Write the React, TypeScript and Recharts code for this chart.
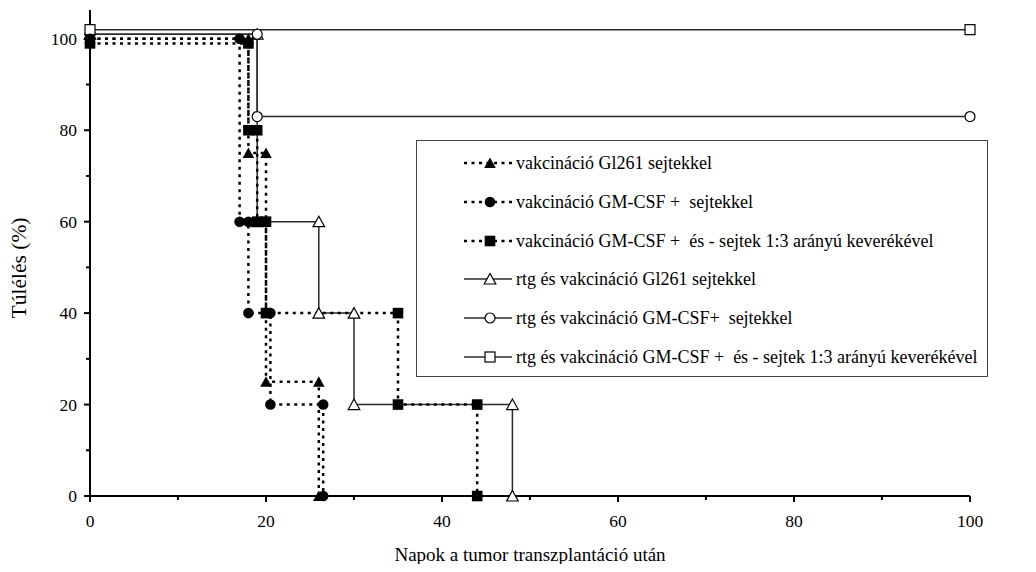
import React from 'react';
import { LineChart, Line, XAxis, YAxis, Legend, Label } from 'recharts';

const FONT = '"Liberation Serif", "Times New Roman", Times, serif';

// Kaplan–Meier step curves: every corner of a step is a (day, survival %) point
const gl261Days = [0, 18, 18, 20, 20, 26, 26];
const gl261Surv = [100, 100, 75, 75, 25, 25, 0];

const gmPlusDays = [0, 17, 17, 18, 18, 20.5, 20.5, 26.5, 26.5];
const gmPlusSurv = [100, 100, 60, 60, 40, 40, 20, 20, 0];

const mixDays = [0, 18, 18, 19, 19, 20, 20, 35, 35, 44, 44];
const mixSurv = [99, 99, 80, 80, 60, 60, 40, 40, 20, 20, 0];

const rtgGl261Days = [0, 19, 19, 26, 26, 30, 30, 48, 48];
const rtgGl261Surv = [101, 101, 60, 60, 40, 40, 20, 20, 0];

const rtgGmPlusDays = [0, 19, 19, 100];
const rtgGmPlusSurv = [101, 101, 83, 83];

const rtgMixDays = [0, 100];
const rtgMixSurv = [102, 102];

const xTicks = [0, 10, 20, 30, 40, 50, 60, 70, 80, 90, 100];
const yTicks = [0, 10, 20, 30, 40, 50, 60, 70, 80, 90, 100];

type MarkerKind = 'triangle' | 'circle' | 'square' | 'triangleOpen' | 'circleOpen' | 'squareOpen';

type Series = {
  name: string;
  days: number[];
  surv: number[];
  dotted: boolean;
  marker: MarkerKind;
};

const SERIES: Series[] = [
  { name: 'vakcináció Gl261 sejtekkel', days: gl261Days, surv: gl261Surv, dotted: true, marker: 'triangle' },
  { name: 'vakcináció GM-CSF +  sejtekkel', days: gmPlusDays, surv: gmPlusSurv, dotted: true, marker: 'circle' },
  { name: 'vakcináció GM-CSF +  és - sejtek 1:3 arányú keverékével', days: mixDays, surv: mixSurv, dotted: true, marker: 'square' },
  { name: 'rtg és vakcináció Gl261 sejtekkel', days: rtgGl261Days, surv: rtgGl261Surv, dotted: false, marker: 'triangleOpen' },
  { name: 'rtg és vakcináció GM-CSF+  sejtekkel', days: rtgGmPlusDays, surv: rtgGmPlusSurv, dotted: false, marker: 'circleOpen' },
  { name: 'rtg és vakcináció GM-CSF +  és - sejtek 1:3 arányú keverékével', days: rtgMixDays, surv: rtgMixSurv, dotted: false, marker: 'squareOpen' },
];

// open-marker series are painted first, filled ones on top
const DRAW_ORDER = [3, 4, 5, 0, 1, 2];

const toPoints = (s: Series) => s.days.map((d, i) => ({ x: d, y: s.surv[i] }));

const DOT_DASH = '3 4.5';
const lineStroke = (s: Series) => (s.dotted ? '#000' : '#2a2a2a');
const lineWidth = (s: Series) => (s.dotted ? 2.5 : 1.5);

function Marker({ kind, cx, cy }: { kind: MarkerKind; cx: number; cy: number }) {
  const open = { fill: '#fff', stroke: '#000', strokeWidth: 1.2 };
  switch (kind) {
    case 'triangle':
      return <polygon points={`${cx},${cy - 5.5} ${cx - 5.8},${cy + 5} ${cx + 5.8},${cy + 5}`} fill="#000" />;
    case 'circle':
      return <circle cx={cx} cy={cy} r={5.3} fill="#000" />;
    case 'square':
      return <rect x={cx - 5.3} y={cy - 5.3} width={10.6} height={10.6} fill="#000" />;
    case 'triangleOpen':
      return <polygon points={`${cx},${cy - 5.5} ${cx - 5.8},${cy + 5} ${cx + 5.8},${cy + 5}`} {...open} />;
    case 'circleOpen':
      return <circle cx={cx} cy={cy} r={5} {...open} />;
    case 'squareOpen':
    default:
      return <rect x={cx - 5} y={cy - 5} width={10} height={10} {...open} />;
  }
}

const TICK_FONT = 17.5;

const YTick = (props: any) => {
  const { x, y, payload } = props;
  const major = payload.value % 20 === 0;
  return (
    <g>
      <line x1={x - (major ? 6 : 4)} x2={x} y1={y} y2={y} stroke="#000" strokeWidth={2} />
      {major && (
        <text x={x - 13} y={y} dy="0.35em" textAnchor="end" fontFamily={FONT} fontSize={TICK_FONT} fill="#000">
          {payload.value}
        </text>
      )}
    </g>
  );
};

const XTick = (props: any) => {
  const { x, y, payload } = props;
  const major = payload.value % 20 === 0;
  return (
    <g>
      <line x1={x} x2={x} y1={y} y2={y + (major ? 6 : 4)} stroke="#000" strokeWidth={2} />
      {major && (
        <text x={x} y={y + 25} dy="0.35em" textAnchor="middle" fontFamily={FONT} fontSize={TICK_FONT} fill="#000">
          {payload.value}
        </text>
      )}
    </g>
  );
};

const LegendBox = () => (
  <div
    style={{
      position: 'relative',
      width: 572,
      height: 237,
      border: '1px solid #444',
      boxSizing: 'border-box',
      background: '#fff',
      fontFamily: FONT,
    }}
  >
    {SERIES.map((s, i) => (
      <div
        key={s.name}
        style={{
          position: 'absolute',
          left: 45,
          top: 22 + i * 38.8 - 11,
          height: 22,
          display: 'flex',
          alignItems: 'center',
        }}
      >
        <svg width={52} height={22} style={{ display: 'block' }}>
          <line
            x1={2}
            x2={50}
            y1={11}
            y2={11}
            stroke={lineStroke(s)}
            strokeWidth={s.dotted ? 2.5 : 1.5}
            strokeDasharray={s.dotted ? DOT_DASH : undefined}
          />
          <Marker kind={s.marker} cx={28} cy={11} />
        </svg>
        <span style={{ marginLeft: 2, fontSize: 18, whiteSpace: 'pre', color: '#000', lineHeight: '22px' }}>
          {s.name}
        </span>
      </div>
    ))}
  </div>
);

export default function App() {
  return (
    <LineChart width={1020} height={556} margin={{ top: 2, right: 58, bottom: 0, left: 0 }}>
      <XAxis
        type="number"
        dataKey="x"
        domain={[0, 100]}
        ticks={xTicks}
        interval={0}
        height={68}
        tickSize={0}
        tickMargin={0}
        tickLine={false}
        tick={<XTick />}
        axisLine={{ stroke: '#000', strokeWidth: 2 }}
      >
        <Label
          content={(p: any) => {
            const vb = p.viewBox || { x: 82, y: 488, width: 880 };
            return (
              <text
                x={vb.x + vb.width / 2}
                y={vb.y + 58}
                dy="0.35em"
                textAnchor="middle"
                fontFamily={FONT}
                fontSize={19}
                fill="#000"
              >
                Napok a tumor transzplantáció után
              </text>
            );
          }}
        />
      </XAxis>
      <YAxis
        type="number"
        dataKey="y"
        domain={[0, 106.3]}
        ticks={yTicks}
        interval={0}
        width={82}
        tickSize={0}
        tickMargin={0}
        tickLine={false}
        tick={<YTick />}
        axisLine={{ stroke: '#000', strokeWidth: 2 }}
      >
        <Label
          content={() => (
            <text
              x={10}
              y={260}
              transform="rotate(-90, 10, 260)"
              dy="0.35em"
              textAnchor="middle"
              fontFamily={FONT}
              fontSize={21.5}
              fill="#000"
            >
              Túlélés (%)
            </text>
          )}
        />
      </YAxis>
      {DRAW_ORDER.map((idx) => {
        const s = SERIES[idx];
        return (
          <Line
            key={s.name}
            name={s.name}
            data={toPoints(s)}
            dataKey="y"
            type="linear"
            stroke={lineStroke(s)}
            strokeWidth={lineWidth(s)}
            strokeDasharray={s.dotted ? DOT_DASH : undefined}
            isAnimationActive={false}
            activeDot={false}
            dot={(p: any) => <Marker key={`${idx}-${p.index}`} kind={s.marker} cx={p.cx} cy={p.cy} />}
          />
        );
      })}
      <Legend
        layout="vertical"
        align="center"
        verticalAlign="middle"
        content={() => <LegendBox />}
        wrapperStyle={{ left: 408, top: 132, width: 572, height: 237 }}
      />
    </LineChart>
  );
}
